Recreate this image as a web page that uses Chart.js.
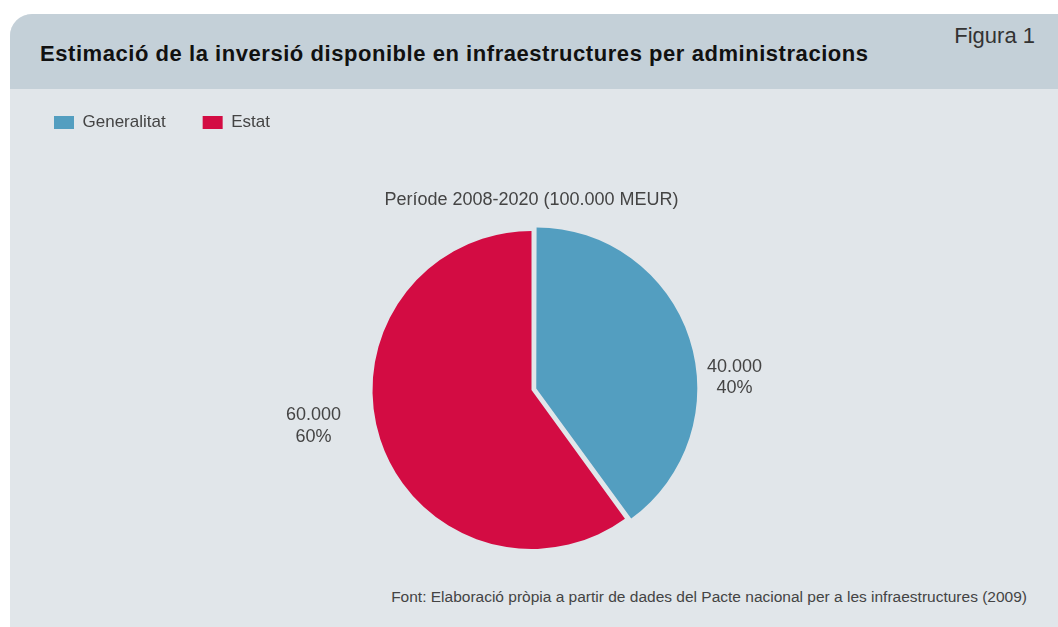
<!DOCTYPE html>
<html>
<head>
<meta charset="utf-8">
<script src="https://cdn.jsdelivr.net/npm/chart.js@4.4.0/dist/chart.umd.min.js"></script>
<style>
    html, body {
        margin: 0;
        padding: 0;
        background: #ffffff;
    }
    body {
        position: relative;
        width: 1058px;
        height: 627px;
        overflow: hidden;
        font-family: "Liberation Sans", Arial, sans-serif;
    }
    .panel {
        position: absolute;
        left: 10px;
        top: 14px;
        width: 1070px;
        height: 640px;
        background: #e1e6ea;
        border-top-left-radius: 22px;
        overflow: hidden;
    }
    .panel-head {
        position: absolute;
        left: 0;
        top: 0;
        width: 100%;
        height: 75px;
        background: #c4d0d8;
    }
    .txt {
        position: absolute;
        line-height: 1;
        white-space: nowrap;
        margin: 0;
    }
    .title {
        left: 40px;
        top: 43px;
        font-size: 22px;
        letter-spacing: 0.55px;
        font-weight: bold;
        color: #111;
    }
    .figura {
        right: 23px;
        top: 25px;
        font-size: 22px;
        color: #333;
    }
    .font-note {
        right: 31px;
        top: 589px;
        font-size: 15.5px;
        color: #444;
    }
    #chart {
        position: absolute;
        left: 0;
        top: 0;
    }
</style>
</head>
<body>
<div class="panel"><div class="panel-head"></div></div>
<h1 class="txt title">Estimació de la inversió disponible en infraestructures per administracions</h1>
<div class="txt figura">Figura 1</div>
<div class="txt font-note">Font: Elaboració pròpia a partir de dades del Pacte nacional per a les infraestructures (2009)</div>
<canvas id="chart" width="1058" height="627"></canvas>

<script>
// dades
const categories = ['Generalitat', 'Estat'];
const values = [40000, 60000];
const colors = ['#539ec0', '#d30c43'];
const periodLabel = 'Període 2008-2020 (100.000 MEUR)';

// 40.000 -> format amb punt de milers
function formatThousands(n) {
    return String(n).replace(/\B(?=(\d{3})+(?!\d))/g, '.');
}

// etiquetes fora de cada sector
const sliceLabels = {
    id: 'sliceLabels',
    afterDatasetsDraw(chart, args, opts) {
        const ctx = chart.ctx;
        const meta = chart.getDatasetMeta(0);
        const data = chart.data.datasets[0].data;
        const total = data.reduce((a, b) => a + b, 0);

        ctx.save();
        ctx.font = opts.font;
        ctx.fillStyle = opts.color;
        ctx.textAlign = 'center';
        ctx.textBaseline = 'middle';

        meta.data.forEach((arc, i) => {
            const p = arc.getProps(['x', 'y'], true);
            const off = opts.offsets[i];
            const lines = [formatThousands(data[i]), Math.round(data[i] / total * 100) + '%'];
            lines.forEach((t, j) => {
                const dy = (j - (lines.length - 1) / 2) * opts.lineHeight;
                ctx.fillText(t, p.x + off[0], p.y + off[1] + dy);
            });
        });
        ctx.restore();
    }
};

Chart.defaults.font.family = '"Liberation Sans", Arial, sans-serif';
Chart.defaults.color = '#444';

const ctx = document.getElementById('chart').getContext('2d');
new Chart(ctx, {
    type: 'pie',
    data: {
        labels: categories,
        datasets: [{
            data: values,
            backgroundColor: colors,
            borderWidth: 0,
            // chart.js divideix l'offset per 4: ~5px reals
            offset: [20, 0],
            hoverOffset: 0,
            radius: 159
        }]
    },
    options: {
        responsive: false,
        devicePixelRatio: 1,
        animation: false,
        events: [],
        layout: {
            padding: { left: 17, right: 12, top: 77, bottom: 67.6 }
        },
        plugins: {
            legend: {
                display: true,
                position: 'top',
                align: 'start',
                labels: {
                    boxWidth: 20,
                    boxHeight: 13,
                    padding: 37,
                    color: '#444',
                    font: { size: 17 }
                }
            },
            title: {
                display: true,
                text: periodLabel,
                weight: 500,
                color: '#444',
                font: { size: 18, weight: 'normal' },
                padding: { top: 48, bottom: 10 }
            },
            tooltip: { enabled: false },
            sliceLabels: {
                font: '18px "Liberation Sans", Arial, sans-serif',
                color: '#444',
                lineHeight: 21.5,
                offsets: [[203, -12.5], [-218, 36]]
            }
        }
    },
    plugins: [sliceLabels]
});
</script>
</body>
</html>
